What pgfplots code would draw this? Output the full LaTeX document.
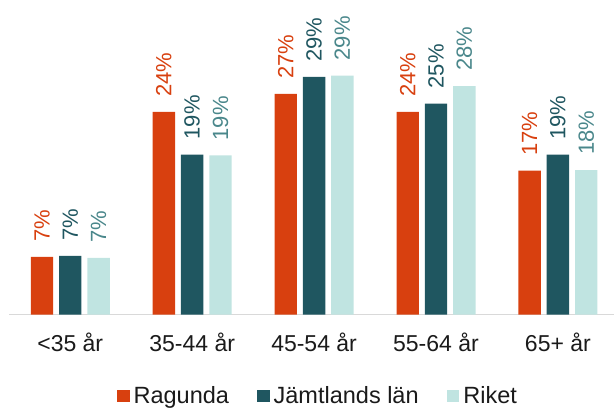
\documentclass[border=0pt]{standalone}
\usepackage{pgfplots}
\pgfplotsset{compat=1.18}
\usepackage{pgfplotstable}
\usepackage{fontspec}
\setmainfont{Liberation Sans}
\definecolor{cRag}{HTML}{D8400F}
\definecolor{cJam}{HTML}{1F5660}
\definecolor{cRik}{HTML}{C0E4E1}
\definecolor{lRik}{HTML}{4A878B}
\definecolor{axgray}{HTML}{D9D9D9}
\definecolor{txt}{HTML}{1A1A1A}

\pgfplotstableread{
x y lab
0 6.94 7
1 24.43 24
2 26.60 27
3 24.43 24
4 17.35 17
}\ragunda
\pgfplotstableread{
x y lab
0 7.06 7
1 19.30 19
2 28.65 29
3 25.45 25
4 19.28 19
}\jamtland
\pgfplotstableread{
x y lab
0 6.82 7
1 19.18 19
2 28.83 29
3 27.56 28
4 17.43 18
}\riket

\begin{document}
\begin{tikzpicture}
\path[use as bounding box] (0,0) rectangle (614pt,408pt);
\begin{axis}[
  at={(9.3pt,93.5pt)}, anchor=south west,
  scale only axis,
  width=604.7pt, height=290.15pt,
  xmin=-0.5, xmax=4.46, ymin=0, ymax=35,
  clip=false,
  ybar=5.9pt, bar width=22.4pt,
  axis x line*=bottom, axis y line=none,
  x axis line style={draw=axgray, line width=1.8pt, -},
  xtick={0,1,2,3,4},
  xticklabels={<35 år, 35-44 år, 45-54 år, 55-64 år, 65+ år},
  major tick length=0pt,
  xticklabel style={anchor=base, yshift=-37.2pt, font=\fontsize{23}{27}\selectfont, text=txt},
  point meta=explicit symbolic,
  nodes near coords={\pgfplotspointmeta\%},
  nodes near coords style={rotate=90, anchor=west, inner xsep=15pt, inner ysep=0pt, font=\fontsize{22}{26}\selectfont},
  legend columns=3,
  legend style={draw=none, fill=none, at={(0.512,-0.281)}, anchor=center,
    font=\fontsize{23.5}{27}\selectfont, text=txt,
    /tikz/every even column/.append style={column sep=24pt},
    nodes={inner xsep=4pt, inner ysep=1pt}},
  legend image code/.code={\fill[#1] (0pt,-6.35pt) rectangle (12.7pt,6.35pt);},
]
\addplot[fill=cRag, draw=none, nodes near coords style={text=cRag}] table[x=x, y=y, meta=lab] {\ragunda};
\addplot[fill=cJam, draw=none, nodes near coords style={text=cJam}] table[x=x, y=y, meta=lab] {\jamtland};
\addplot[fill=cRik, draw=none, nodes near coords style={text=lRik}] table[x=x, y=y, meta=lab] {\riket};
\legend{Ragunda, Jämtlands län, Riket}
\end{axis}
\end{tikzpicture}
\end{document}
